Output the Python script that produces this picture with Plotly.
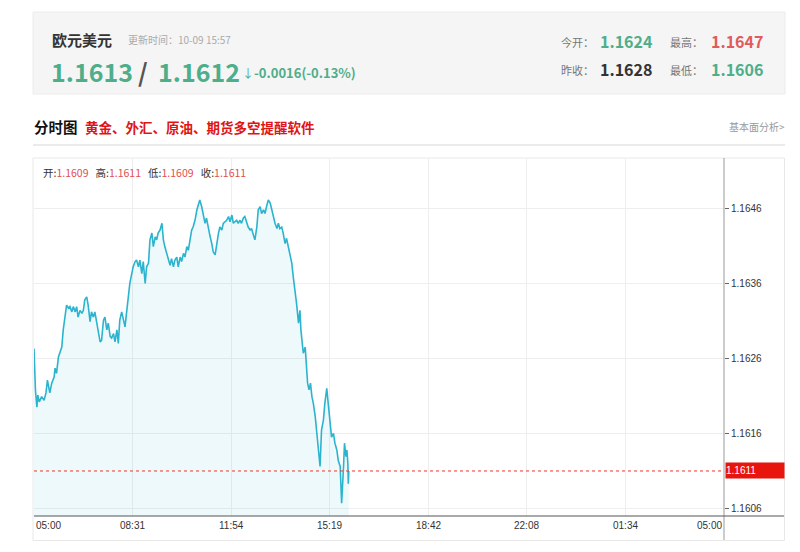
import plotly.graph_objects as go

# ---------------- data ----------------
minutes = [0, 3, 6, 8, 11, 16, 21, 25, 28, 30, 33, 37, 42, 44, 47, 51, 56, 58, 61, 65,
           68, 72, 75, 79, 82, 86, 89, 92, 96, 100, 103, 106, 110, 113, 117, 120, 124, 127, 131, 134,
           138, 141, 145, 148, 152, 155, 159, 162, 166, 169, 173, 176, 179, 183, 186, 190, 193, 197, 200, 204,
           207, 211, 214, 218, 221, 225, 228, 232, 235, 239, 242, 246, 249, 253, 256, 259, 263, 267, 270, 273,
           277, 280, 284, 287, 291, 294, 298, 301, 305, 308, 312, 315, 319, 322, 326, 329, 332, 336, 340, 343,
           346, 350, 353, 357, 360, 364, 367, 371, 374, 378, 381, 385, 388, 392, 395, 399, 402, 406, 409, 413,
           416, 419, 423, 426, 430, 433, 437, 440, 444, 447, 451, 454, 458, 461, 465, 468, 472, 475, 479, 482,
           486, 489, 493, 496, 500, 503, 507, 510, 513, 517, 520, 524, 527, 531, 534, 538, 541, 545, 548, 552,
           555, 557, 559, 562, 566, 568, 571, 574, 577, 580, 583, 587, 590, 593, 597, 600, 604, 607, 611, 614,
           618, 621, 625, 628, 632, 635, 639, 642, 646, 648, 651, 653, 655, 656, 657]
prices = [1.16273, 1.16218, 1.16195, 1.16211, 1.16202, 1.16209, 1.16204, 1.16214, 1.16231, 1.16222,
          1.16214, 1.16227, 1.16235, 1.16247, 1.16240, 1.16262, 1.16274, 1.16275, 1.16298, 1.16320,
          1.16331, 1.16327, 1.16329, 1.16322, 1.16329, 1.16322, 1.16329, 1.16315, 1.16324, 1.16320,
          1.16324, 1.16338, 1.16342, 1.16331, 1.16309, 1.16322, 1.16315, 1.16322, 1.16307, 1.16298,
          1.16282, 1.16284, 1.16311, 1.16315, 1.16298, 1.16307, 1.16289, 1.16287, 1.16293, 1.16282,
          1.16298, 1.16280, 1.16311, 1.16322, 1.16315, 1.16302, 1.16320, 1.16347, 1.16360, 1.16373,
          1.16382, 1.16389, 1.16391, 1.16382, 1.16391, 1.16373, 1.16389, 1.16360, 1.16382, 1.16387,
          1.16418, 1.16427, 1.16409, 1.16422, 1.16418, 1.16427, 1.16431, 1.16440, 1.16418, 1.16409,
          1.16400, 1.16391, 1.16384, 1.16393, 1.16382, 1.16391, 1.16395, 1.16382, 1.16395, 1.16389,
          1.16400, 1.16395, 1.16409, 1.16404, 1.16418, 1.16431, 1.16435, 1.16444, 1.16458, 1.16464,
          1.16471, 1.16462, 1.16453, 1.16440, 1.16447, 1.16431, 1.16424, 1.16413, 1.16402, 1.16398,
          1.16413, 1.16427, 1.16435, 1.16431, 1.16440, 1.16442, 1.16444, 1.16449, 1.16442, 1.16451,
          1.16440, 1.16442, 1.16444, 1.16440, 1.16444, 1.16440, 1.16447, 1.16449, 1.16440, 1.16435,
          1.16431, 1.16433, 1.16424, 1.16418, 1.16435, 1.16458, 1.16462, 1.16453, 1.16458, 1.16453,
          1.16464, 1.16471, 1.16467, 1.16458, 1.16447, 1.16440, 1.16433, 1.16440, 1.16433, 1.16435,
          1.16427, 1.16413, 1.16420, 1.16407, 1.16400, 1.16387, 1.16369, 1.16351, 1.16333, 1.16307,
          1.16324, 1.16298, 1.16284, 1.16267, 1.16275, 1.16253, 1.16227, 1.16218, 1.16227, 1.16209,
          1.16200, 1.16182, 1.16164, 1.16138, 1.16116, 1.16164, 1.16178, 1.16200, 1.16220, 1.16200,
          1.16173, 1.16155, 1.16160, 1.16147, 1.16138, 1.16124, 1.16116, 1.16067, 1.16116, 1.16147,
          1.16129, 1.16138, 1.16120, 1.16093, 1.16110]

x_tick_labels = ["05:00", "08:31", "11:54", "15:19", "18:42", "22:08", "01:34", "05:00"]
y_tick_vals = [1.1606, 1.1616, 1.1626, 1.1636, 1.1646]
last_price = 1.1611
ohlc_labels = ["开", "高", "低", "收"]
ohlc_values = ["1.1609", "1.1611", "1.1609", "1.1611"]

# ---------------- geometry helpers ----------------
# page body has an 8px margin, so the figure is drawn 8px smaller and offset
PAGE_OFF = 8
W, H = 800 - PAGE_OFF, 552 - PAGE_OFF
L, R, T, B = 34, 724, 158, 516          # plot area in window pixels
def px(x):
    return (x - L) / (R - L)
def py(y):
    return (B - y) / (B - T)

GREEN = "#4fae8a"
RED_V = "#e05b5b"
CJK = "Noto Sans CJK SC"

fig = go.Figure()
fig.add_trace(go.Scatter(
    x=minutes, y=prices, mode="lines",
    line=dict(color="#2cb4cf", width=1.6),
    fill="tozeroy", fillcolor="rgba(44,180,207,0.08)",
    hoverinfo="skip", showlegend=False))

n = len(x_tick_labels) - 1
x_tick_vals = [i * 1440 / n for i in range(n + 1)]

fig.update_layout(
    width=W, height=H,
    margin=dict(l=L - PAGE_OFF, r=W - (R - PAGE_OFF), t=T - PAGE_OFF, b=H - (B - PAGE_OFF)),
    paper_bgcolor="white", plot_bgcolor="white",
    xaxis=dict(range=[0, 1440], tickvals=x_tick_vals, showticklabels=False,
               showgrid=True, gridcolor="#eeeeee", gridwidth=1, zeroline=False,
               showline=False, fixedrange=True),
    yaxis=dict(range=[1.16050, 1.16527], side="right", tickvals=y_tick_vals,
               ticktext=[f"{v:.4f}" for v in y_tick_vals],
               ticks="outside", ticklen=4, tickcolor="#666",
               tickfont=dict(family="Liberation Sans", size=10, color="#333"),
               showgrid=True, gridcolor="#eeeeee", zeroline=False,
               showline=False, fixedrange=True),
    font=dict(family=CJK),
)

shapes = []
shapes.append(dict(type="rect", xref="paper", yref="paper", x0=px(33), x1=px(785), y0=py(12), y1=py(94),
                   fillcolor="#f5f5f5", line=dict(color="#ececec", width=1), layer="below"))
shapes.append(dict(type="line", xref="paper", yref="paper", x0=px(33), x1=px(785), y0=py(145), y1=py(145),
                   line=dict(color="#d6d6d6", width=1)))
shapes.append(dict(type="rect", xref="paper", yref="paper", x0=px(33), x1=px(784.5), y0=py(158), y1=py(540.5),
                   line=dict(color="#e8e8e8", width=1), layer="below"))
shapes.append(dict(type="line", xref="paper", yref="paper", x0=1, x1=1, y0=py(158), y1=py(540),
                   line=dict(color="#999999", width=1)))
shapes.append(dict(type="line", xref="paper", yref="paper", x0=0, x1=px(784), y0=0, y1=0,
                   line=dict(color="#555555", width=1)))
shapes.append(dict(type="line", xref="paper", yref="y", x0=0, x1=1, y0=last_price, y1=last_price,
                   line=dict(color="#e8352e", width=1, dash="dot")))
fig.update_layout(shapes=shapes)

ann = []
def text(x, y, s, size, color, bold=False, xanchor="left", yanchor="middle", family=CJK):
    ann.append(dict(xref="paper", yref="paper", x=px(x), y=py(y), text=(f"<b>{s}</b>" if bold else s),
                    showarrow=False, xanchor=xanchor, yanchor=yanchor,
                    font=dict(family=family, size=size, color=color)))

# header
text(50, 40, "欧元美元", 15, "#333333", bold=True)
text(126, 40, "更新时间：10-09 15:57", 10, "#aaaaaa")
text(49, 71, "1.1613", 25, GREEN, bold=True)
text(136, 71, "/", 25, "#555555", bold=True)
text(156, 71, "1.1612", 25, GREEN, bold=True)
text(240, 73, "↓", 12, GREEN)
text(252, 73, "-0.0016(-0.13%)", 13, GREEN, bold=True)
text(559, 42, "今开：", 11, "#777777")
text(598, 41, "1.1624", 16, GREEN, bold=True)
text(668, 42, "最高：", 11, "#777777")
text(709, 41, "1.1647", 16, RED_V, bold=True)
text(559, 70, "昨收：", 11, "#777777")
text(598, 69, "1.1628", 16, "#333333", bold=True)
text(668, 70, "最低：", 11, "#777777")
text(709, 69, "1.1606", 16, GREEN, bold=True)

# title row
text(32, 127, "分时图", 14.5, "#111111", bold=True)
text(83, 127, "黄金、外汇、原油、期货多空提醒软件", 13.5, "#e01414", bold=True)
text(787, 127, "基本面分析>", 10, "#999999", xanchor="right")

# OHLC line
ohlc = "   ".join(f"<span style='color:#333'>{k}:</span><span style='color:#e05050'>{v}</span>"
                   for k, v in zip(ohlc_labels, ohlc_values))
text(41, 172, ohlc, 10.5, "#333333")

# x tick labels
for i, (v, lab) in enumerate(zip(x_tick_vals, x_tick_labels)):
    xa = "left" if i == 0 else ("right" if i == n else "center")
    ann.append(dict(xref="x", yref="paper", x=v, y=py(525), text=lab, showarrow=False,
                    xanchor=xa, yanchor="middle",
                    font=dict(family="Liberation Sans", size=10, color="#333333")))

# last price label
ann.append(dict(xref="paper", yref="y", x=px(725), y=last_price, text=f"{last_price:.4f}",
                showarrow=False, xanchor="left", yanchor="middle", align="left",
                bgcolor="#e8150e", width=58, height=15, borderpad=0,
                font=dict(family="Liberation Sans", size=10, color="white")))

fig.update_layout(annotations=ann)
fig.write_html("out.html", config=dict(displayModeBar=False))
